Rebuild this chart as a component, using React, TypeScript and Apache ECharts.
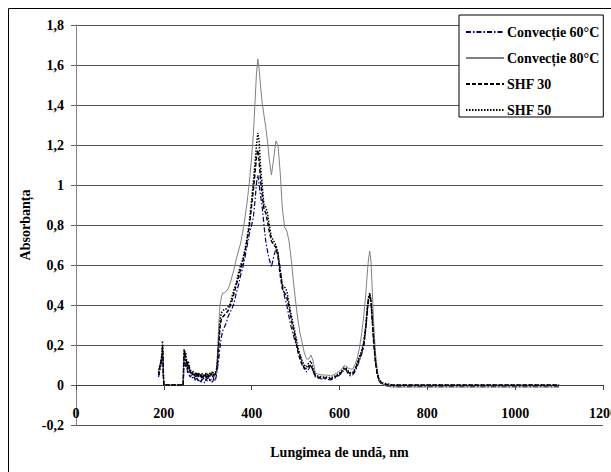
import React, { useEffect, useRef } from "react";
import * as echarts from "echarts";

const seriesNames = ["Convecție 60°C", "Convecție 80°C", "SHF 30", "SHF 50"];

const wavelengths = [
  188, 190, 192, 194, 196, 197, 198, 199, 200,
  201, 244,
  245, 246, 248, 250, 252, 254, 256, 258, 260, 263, 266, 269, 272, 275, 278, 281, 284, 287, 290, 293, 296, 299, 302, 305, 308, 311, 314, 317, 320,
  322, 325, 328, 331, 334, 338, 342, 346, 350,
  355, 360, 365, 370, 375, 380, 385, 390, 395, 400,
  404, 408, 411, 414, 417, 420, 424, 428, 432, 436, 440,
  445, 450, 455, 460, 465, 470, 475, 480, 485, 490, 495, 500, 505, 510, 515, 520, 525, 530, 535, 540, 545,
  550, 560, 570, 580, 590, 600,
  605, 610, 615, 620, 625, 630, 635, 640, 645, 650, 655, 660,
  663, 666, 669, 672, 675, 678,
  682, 686, 690, 695, 700,
  710, 720, 750, 800, 850, 900, 950, 1000, 1050, 1100,
];

const conv60 = [
  0.04, 0.06, 0.08, 0.11, 0.13, 0.16, 0.12, 0.04, 0,
  0, 0,
  0.06, 0.13, 0.12, 0.09, 0.10, 0.06, 0.07, 0.05, 0.04, 0.05, 0.03, 0.04, 0.02, 0.04, 0.02, 0.03, 0.01, 0.03, 0.02, 0.01, 0.03, 0.02, 0.04, 0.02, 0.03, 0.01, 0.04, 0.02, 0.05,
  0.08, 0.13, 0.19, 0.24, 0.27, 0.29, 0.31, 0.34, 0.36,
  0.38, 0.41, 0.46, 0.50, 0.55, 0.59, 0.64, 0.70, 0.76, 0.80,
  0.84, 0.93, 1.01, 1.05, 1.00, 0.95, 0.89, 0.80, 0.72, 0.67, 0.63,
  0.59, 0.64, 0.68, 0.66, 0.58, 0.50, 0.44, 0.40, 0.34, 0.29, 0.25, 0.21, 0.18, 0.15, 0.11, 0.08, 0.065, 0.08, 0.10, 0.07, 0.04,
  0.035, 0.03, 0.03, 0.025, 0.035, 0.05,
  0.06, 0.075, 0.075, 0.055, 0.045, 0.05, 0.065, 0.09, 0.12, 0.15, 0.19, 0.28,
  0.36, 0.43, 0.45, 0.41, 0.32, 0.22,
  0.12, 0.05, 0.02, 0.005, 0,
  -0.005, -0.008, -0.008, -0.008, -0.008, -0.008, -0.008, -0.008, -0.008, -0.008,
];

const conv80 = [
  0.07, 0.09, 0.11, 0.13, 0.15, 0.19, 0.14, 0.05, 0,
  0, 0,
  0.09, 0.16, 0.15, 0.13, 0.10, 0.11, 0.08, 0.08, 0.07, 0.05, 0.06, 0.05, 0.05, 0.05, 0.04, 0.05, 0.05, 0.04, 0.04, 0.05, 0.03, 0.05, 0.05, 0.04, 0.05, 0.05, 0.04, 0.06, 0.07,
  0.15, 0.30, 0.40, 0.44, 0.46, 0.46, 0.47, 0.48, 0.50,
  0.54, 0.58, 0.63, 0.67, 0.71, 0.77, 0.84, 0.92, 1.02, 1.14,
  1.26, 1.43, 1.56, 1.63, 1.58, 1.50, 1.41, 1.35, 1.29, 1.22, 1.13,
  1.05, 1.13, 1.22, 1.20, 1.06, 0.88, 0.79, 0.77, 0.72, 0.63, 0.52, 0.42, 0.33, 0.26, 0.21, 0.16, 0.13, 0.13, 0.15, 0.12, 0.06,
  0.055, 0.05, 0.05, 0.045, 0.055, 0.07,
  0.08, 0.095, 0.095, 0.085, 0.08, 0.08, 0.10, 0.13, 0.18, 0.25, 0.34, 0.46,
  0.55, 0.63, 0.67, 0.61, 0.45, 0.30,
  0.16, 0.075, 0.03, 0.01, 0,
  -0.008, -0.01, -0.01, -0.01, -0.01, -0.01, -0.01, -0.01, -0.01, -0.01,
];

const shf30 = [
  0.05, 0.08, 0.10, 0.12, 0.15, 0.20, 0.14, 0.05, 0,
  0, 0,
  0.08, 0.15, 0.17, 0.12, 0.13, 0.08, 0.10, 0.09, 0.06, 0.07, 0.05, 0.06, 0.04, 0.06, 0.04, 0.06, 0.05, 0.03, 0.05, 0.04, 0.06, 0.03, 0.05, 0.04, 0.06, 0.04, 0.06, 0.05, 0.07,
  0.10, 0.20, 0.29, 0.33, 0.34, 0.35, 0.36, 0.37, 0.39,
  0.42, 0.46, 0.50, 0.54, 0.58, 0.62, 0.67, 0.73, 0.80, 0.90,
  0.98, 1.07, 1.14, 1.175, 1.12, 1.03, 0.95, 0.88, 0.86, 0.82, 0.77,
  0.72, 0.70, 0.69, 0.64, 0.55, 0.48, 0.46, 0.44, 0.39, 0.33, 0.28, 0.23, 0.17, 0.13, 0.10, 0.085, 0.08, 0.095, 0.10, 0.07, 0.045,
  0.04, 0.035, 0.035, 0.03, 0.04, 0.055,
  0.065, 0.08, 0.08, 0.065, 0.055, 0.055, 0.075, 0.10, 0.13, 0.16, 0.20, 0.29,
  0.37, 0.43, 0.45, 0.41, 0.31, 0.21,
  0.11, 0.055, 0.025, 0.012, 0.005,
  0.002, 0, 0, 0, 0, 0, 0, 0, 0, 0,
];

const shf50 = [
  0.06, 0.09, 0.10, 0.13, 0.16, 0.22, 0.15, 0.05, 0,
  0, 0,
  0.10, 0.18, 0.14, 0.16, 0.11, 0.09, 0.12, 0.07, 0.08, 0.06, 0.07, 0.05, 0.06, 0.04, 0.06, 0.05, 0.04, 0.06, 0.03, 0.05, 0.04, 0.06, 0.04, 0.06, 0.05, 0.07, 0.05, 0.06, 0.08,
  0.12, 0.22, 0.32, 0.36, 0.37, 0.38, 0.38, 0.39, 0.40,
  0.44, 0.48, 0.51, 0.56, 0.60, 0.63, 0.68, 0.74, 0.82, 0.93,
  1.02, 1.12, 1.20, 1.26, 1.22, 1.10, 1.00, 0.90, 0.89, 0.86, 0.80,
  0.74, 0.72, 0.70, 0.66, 0.57, 0.50, 0.49, 0.47, 0.41, 0.35, 0.30, 0.25, 0.19, 0.15, 0.12, 0.10, 0.09, 0.11, 0.12, 0.08, 0.05,
  0.045, 0.04, 0.04, 0.035, 0.045, 0.06,
  0.07, 0.085, 0.085, 0.07, 0.06, 0.06, 0.08, 0.11, 0.14, 0.17, 0.21, 0.30,
  0.38, 0.44, 0.46, 0.42, 0.32, 0.22,
  0.12, 0.06, 0.03, 0.015, 0.008,
  0.005, 0, 0, 0, 0, 0, 0, 0, 0, 0,
];

const seriesValues = [conv60, conv80, shf30, shf50];
const seriesColors = ["#000080", "#808080", "#000000", "#000000"];
const seriesDash: (number[] | "solid")[] = [[5, 2, 1.5, 2], "solid", [4, 2], [1.5, 1.5]];
const seriesWidths = [1.2, 1, 1.5, 1.5];

const FONT = "Liberation Serif";

export default function App() {
  const ref = useRef<HTMLDivElement>(null);
  useEffect(() => {
    if (!ref.current) return;
    const chart = echarts.init(ref.current, null, { renderer: "svg" });
    const labelStyle = { fontFamily: FONT, fontWeight: "bold" as const, fontSize: 14, color: "#000" };
    chart.setOption({
      animation: false,
      backgroundColor: "#fff",
      grid: { left: 76, right: 8, top: 25, bottom: 47, containLabel: false, outerBoundsMode: "none" },
      legend: {
        orient: "vertical",
        left: 459,
        top: 15,
        data: seriesNames,
        backgroundColor: "#fff",
        borderColor: "#000",
        borderWidth: 1,
        borderRadius: 0,
        padding: [10, 4, 0, 6],
        itemWidth: 38,
        itemHeight: 14,
        itemGap: 12,
        itemStyle: { opacity: 0 },
        textStyle: { ...labelStyle, padding: [0, 0, 0, -2] },
      },
      xAxis: {
        type: "value",
        min: 0,
        max: 1200,
        interval: 200,
        position: "bottom",
        offset: -40,
        name: "Lungimea de undă, nm",
        nameLocation: "middle",
        nameGap: 60,
        nameMoveOverlap: false,
        nameTextStyle: labelStyle,
        axisLine: { show: true, onZero: false, lineStyle: { color: "#404040", width: 1 } },
        axisTick: { show: true, length: 5, lineStyle: { color: "#404040" } },
        axisLabel: { ...labelStyle, margin: 21, formatter: (v: number) => String(v) },
        splitLine: { show: false },
      },
      yAxis: {
        type: "value",
        min: -0.2,
        max: 1.8,
        interval: 0.2,
        name: "Absorbanța",
        nameLocation: "middle",
        nameRotate: 90,
        nameGap: 44,
        nameMoveOverlap: false,
        nameTextStyle: labelStyle,
        axisLine: { show: true, onZero: false, lineStyle: { color: "#808080", width: 1 } },
        axisTick: { show: true, length: 5, lineStyle: { color: "#606060" } },
        axisLabel: {
          ...labelStyle,
          margin: 12,
          formatter: (v: number) => String(Math.round(v * 10) / 10).replace(".", ","),
        },
        splitLine: { show: true, lineStyle: { color: "#555555", width: 1 } },
      },
      graphic: [
        { type: "line", shape: { x1: 8.5, y1: 8.5, x2: 611, y2: 8.5 }, style: { stroke: "#000", lineWidth: 1 }, z: 100 },
        { type: "line", shape: { x1: 8.5, y1: 8.5, x2: 8.5, y2: 472 }, style: { stroke: "#000", lineWidth: 1 }, z: 100 },
      ],
      series: seriesNames.map((name, si) => ({
        name,
        type: "line",
        symbol: "none",
        showSymbol: false,
        data: wavelengths.map((w, i) => [w, seriesValues[si][i]]),
        lineStyle: { color: seriesColors[si], width: seriesWidths[si], type: seriesDash[si] },
        itemStyle: { color: seriesColors[si] },
        z: 2 + si,
      })),
    });
    return () => chart.dispose();
  }, []);
  return <div ref={ref} style={{ position: "fixed", left: 0, top: 0, width: 611, height: 472 }} />;
}
